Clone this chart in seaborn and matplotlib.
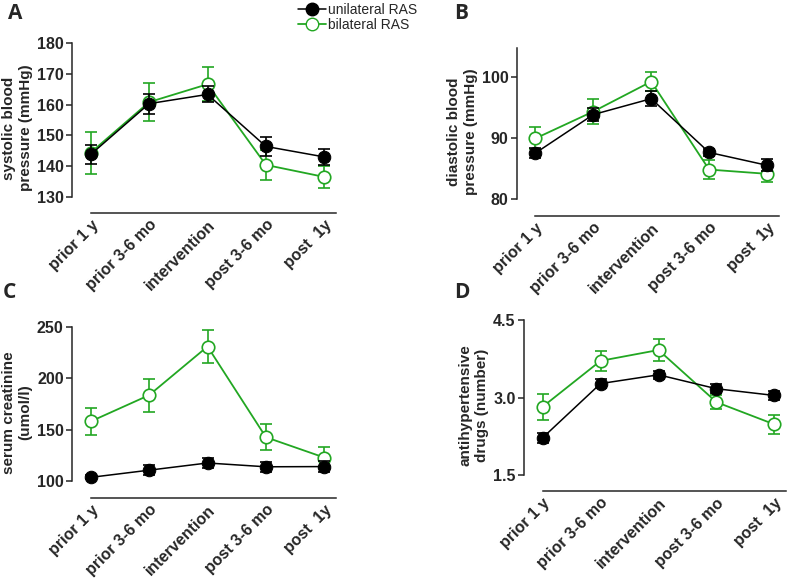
import pandas as pd
import seaborn as sns
import matplotlib.pyplot as plt
from matplotlib.lines import Line2D
from matplotlib.transforms import ScaledTranslation

timepoints = ['prior 1 y', 'prior 3-6 mo', 'intervention', 'post 3-6 mo', 'post  1y']
groups = ['unilateral RAS', 'bilateral RAS']

# A: systolic blood pressure (mean, SEM)
sbp_uni = [143.8, 160.3, 163.3, 146.4, 143.0]
sbp_uni_err = [3.2, 3.2, 2.6, 3.2, 2.5]
sbp_bi = [144.4, 160.8, 166.6, 140.4, 136.5]
sbp_bi_err = [6.8, 6.2, 5.5, 4.9, 3.6]

# B: diastolic blood pressure
dbp_uni = [87.5, 93.8, 96.4, 87.6, 85.5]
dbp_uni_err = [0.8, 1.0, 1.2, 0.5, 1.0]
dbp_bi = [89.9, 94.3, 99.2, 84.8, 84.1]
dbp_bi_err = [1.8, 2.1, 1.6, 1.6, 1.3]

# C: serum creatinine
crea_uni = [103.5, 110.5, 117.5, 113.8, 114.0]
crea_uni_err = [2.0, 5.0, 5.0, 5.0, 5.0]
crea_bi = [158.0, 183.6, 231.0, 142.6, 122.8]
crea_bi_err = [13.5, 16.0, 16.0, 12.5, 10.0]

# D: antihypertensive drugs
drug_uni = [2.22, 3.27, 3.44, 3.17, 3.04]
drug_uni_err = [0.10, 0.09, 0.08, 0.09, 0.08]
drug_bi = [2.82, 3.71, 3.92, 2.91, 2.48]
drug_bi_err = [0.25, 0.20, 0.21, 0.14, 0.19]

green = '#22a722'

sns.set_style('ticks')
plt.rcParams['font.family'] = ['Liberation Sans', 'DejaVu Sans']

fig = plt.figure(figsize=(7.88, 5.8), dpi=100)
shift = ScaledTranslation(0.06, 0, fig.dpi_scale_trans)


def draw_panel(rect, uni, uni_err, bi, bi_err, ylabel, yticks, ylim, ytl):
    ax = fig.add_axes(rect)
    x = list(range(len(timepoints)))
    df = pd.DataFrame({
        'pos': x * 2,
        'value': uni + bi,
        'group': [groups[0]] * 5 + [groups[1]] * 5,
    })
    ax.errorbar(x, bi, yerr=bi_err, fmt='none', ecolor=green, elinewidth=1.2,
                capsize=4, capthick=1.2, zorder=2)
    sns.lineplot(data=df[df.group == groups[1]], x='pos', y='value', ax=ax,
                 color=green, marker='o', markersize=9, markerfacecolor='white',
                 markeredgecolor=green, markeredgewidth=1.2, linewidth=1.3, zorder=3)
    ax.errorbar(x, uni, yerr=uni_err, fmt='none', ecolor='black', elinewidth=1.2,
                capsize=4, capthick=1.2, zorder=4)
    sns.lineplot(data=df[df.group == groups[0]], x='pos', y='value', ax=ax,
                 color='black', marker='o', markersize=9, markerfacecolor='black',
                 markeredgecolor='black', linewidth=1.1, zorder=5)
    ax.set_xlim(-0.32, 4.2)
    ax.set_ylim(*ylim)
    ax.set_yticks(yticks)
    ax.set_yticklabels(ytl, fontsize=11.5, fontweight='bold')
    ax.set_xticks(x)
    ax.set_xticklabels(timepoints, fontsize=11.5, fontweight='bold', rotation=45,
                       ha='right', va='top', rotation_mode='anchor')
    for lab in ax.get_xticklabels():
        lab.set_transform(lab.get_transform() + shift)
    ax.tick_params(axis='x', length=0, pad=3)
    ax.tick_params(axis='y', length=4, width=1.1, pad=2)
    ax.set_xlabel('')
    ax.set_ylabel(ylabel, fontsize=11, fontweight='bold', labelpad=3)
    sns.despine(ax=ax)
    ax.spines['left'].set_bounds(yticks[0], ylim[1])
    ax.spines['bottom'].set_bounds(0, 4.2)
    ax.spines['left'].set_linewidth(1.1)
    ax.spines['bottom'].set_linewidth(1.1)
    return ax


draw_panel([0.0914, 0.6328, 0.335, 0.2931], sbp_uni, sbp_uni_err, sbp_bi, sbp_bi_err,
           'systolic blood\npressure (mmHg)', [130, 140, 150, 160, 170, 180],
           (124.8, 180), ['130', '140', '150', '160', '170', '180'])
draw_panel([0.656, 0.6276, 0.332, 0.2897], dbp_uni, dbp_uni_err, dbp_bi, dbp_bi_err,
           'diastolic blood\npressure (mmHg)', [80, 90, 100],
           (77.2, 104.7), ['80', '90', '100'])
draw_panel([0.0914, 0.1414, 0.335, 0.2948], crea_uni, crea_uni_err, crea_bi, crea_bi_err,
           'serum creatinine\n(umol/l)', [100, 150, 200, 250],
           (83.4, 250), ['100', '150', '200', '250'])
draw_panel([0.665, 0.1534, 0.3325, 0.2948], drug_uni, drug_uni_err, drug_bi, drug_bi_err,
           'antihypertensive\ndrugs (number)', [1.5, 3.0, 4.5],
           (1.19, 4.5), ['1.5', '3.0', '4.5'])

for letter, px, py in [('A', 8, 3), ('B', 454, 3), ('C', 3, 282), ('D', 454, 282)]:
    fig.text(px / 788, 1 - py / 580, letter, fontsize=15, fontweight='bold',
             family=['Open Sans', 'DejaVu Sans'], va='top', ha='left')

handles = [
    Line2D([], [], color='black', marker='o', markersize=9, markerfacecolor='black', linewidth=1.1),
    Line2D([], [], color=green, marker='o', markersize=9, markerfacecolor='white',
           markeredgecolor=green, linewidth=1.3),
]
fig.legend(handles, groups, loc='upper left', bbox_to_anchor=(298 / 788, 1 - 3 / 580),
           frameon=False, fontsize=10, handlelength=2.0, handletextpad=0.15,
           labelspacing=0.05, borderpad=0, borderaxespad=0)

fig.savefig('out.png', dpi=100)
